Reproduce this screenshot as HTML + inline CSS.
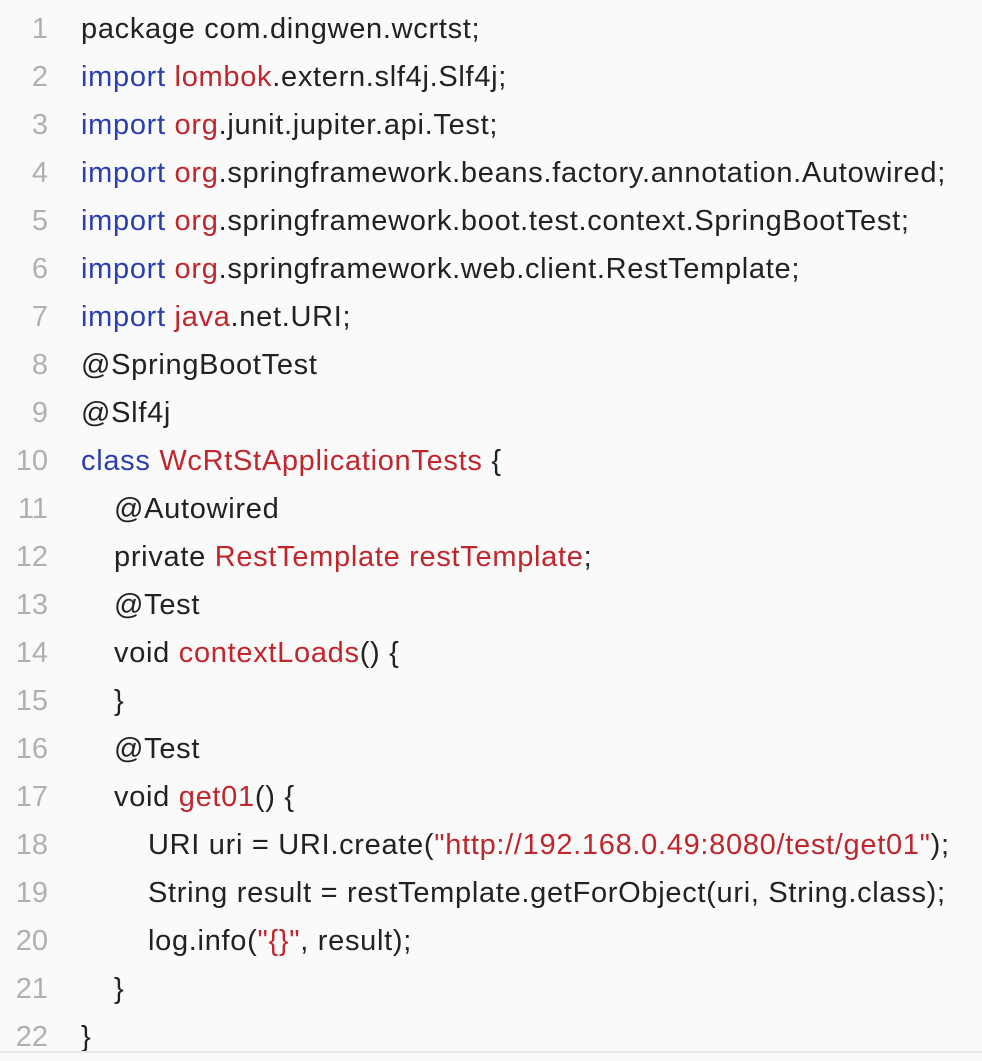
<!DOCTYPE html>
<html><head><meta charset="utf-8"><style>
body{margin:0;width:982px;height:1056px;background:#fafafa;overflow:hidden;position:relative}
.c{position:absolute;top:5px;left:0;font-family:"Liberation Sans",sans-serif;font-size:29px;letter-spacing:0.7px;color:#222;}
.l{height:48px;line-height:48px;white-space:pre;position:relative}
.n{position:absolute;left:0;width:48px;text-align:right;color:#b0b0b0;letter-spacing:0}
.t{position:absolute;left:81px}
.i1{left:114px}.i2{left:148px}
.b{color:#2a3fb0}.r{color:#c0262c}
.bot{position:absolute;left:0;top:1051px;width:982px;height:2px;background:#e6e6e6}
</style></head><body>
<div class="c">
<div class="l"><span class="n">1</span><span class="t">package com.dingwen.wcrtst;</span></div>
<div class="l"><span class="n">2</span><span class="t"><span class="b">import</span> <span class="r">lombok</span>.extern.slf4j.Slf4j;</span></div>
<div class="l"><span class="n">3</span><span class="t"><span class="b">import</span> <span class="r">org</span>.junit.jupiter.api.Test;</span></div>
<div class="l"><span class="n">4</span><span class="t"><span class="b">import</span> <span class="r">org</span>.springframework.beans.factory.annotation.Autowired;</span></div>
<div class="l"><span class="n">5</span><span class="t"><span class="b">import</span> <span class="r">org</span>.springframework.boot.test.context.SpringBootTest;</span></div>
<div class="l"><span class="n">6</span><span class="t"><span class="b">import</span> <span class="r">org</span>.springframework.web.client.RestTemplate;</span></div>
<div class="l"><span class="n">7</span><span class="t"><span class="b">import</span> <span class="r">java</span>.net.URI;</span></div>
<div class="l"><span class="n">8</span><span class="t">@SpringBootTest</span></div>
<div class="l"><span class="n">9</span><span class="t">@Slf4j</span></div>
<div class="l"><span class="n">10</span><span class="t"><span class="b">class</span> <span class="r">WcRtStApplicationTests</span> {</span></div>
<div class="l"><span class="n">11</span><span class="t i1">@Autowired</span></div>
<div class="l"><span class="n">12</span><span class="t i1">private <span class="r">RestTemplate restTemplate</span>;</span></div>
<div class="l"><span class="n">13</span><span class="t i1">@Test</span></div>
<div class="l"><span class="n">14</span><span class="t i1">void <span class="r">contextLoads</span>() {</span></div>
<div class="l"><span class="n">15</span><span class="t i1">}</span></div>
<div class="l"><span class="n">16</span><span class="t i1">@Test</span></div>
<div class="l"><span class="n">17</span><span class="t i1">void <span class="r">get01</span>() {</span></div>
<div class="l"><span class="n">18</span><span class="t i2">URI uri = URI.create(<span class="r">"http://192.168.0.49:8080/test/get01"</span>);</span></div>
<div class="l"><span class="n">19</span><span class="t i2">String result = restTemplate.getForObject(uri, String.class);</span></div>
<div class="l"><span class="n">20</span><span class="t i2">log.info(<span class="r">"{}"</span>, result);</span></div>
<div class="l"><span class="n">21</span><span class="t i1">}</span></div>
<div class="l"><span class="n">22</span><span class="t">}</span></div>
</div>
<div class="bot"></div>
</body></html>
